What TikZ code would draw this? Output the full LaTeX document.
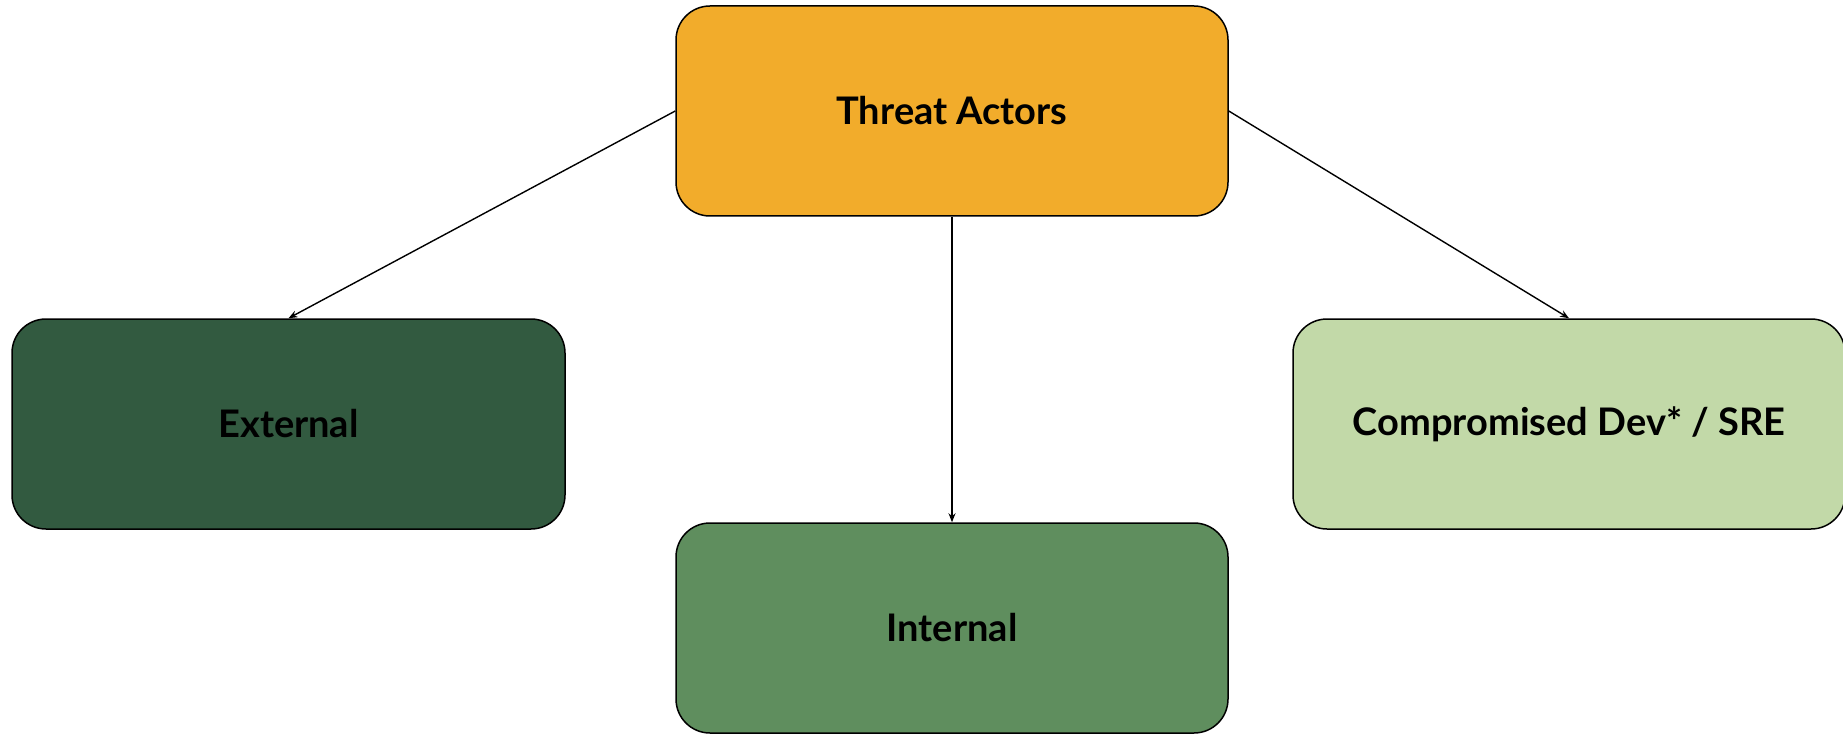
\documentclass[tikz,border=0pt]{standalone}
\usepackage{fontspec}
\setmainfont{Lato}
\usetikzlibrary{arrows.meta}
\definecolor{orangeA}{HTML}{F2AC2B}
\definecolor{greenDark}{HTML}{325A40}
\definecolor{greenMid}{HTML}{5F8E5E}
\definecolor{greenLight}{HTML}{C2D9A8}
\begin{document}
\begin{tikzpicture}[x=1pt,y=-1pt,
  box/.style={draw=black, line width=1.5pt, rounded corners=34pt,
    minimum width=552pt, minimum height=210pt, inner sep=0pt,
    font=\fontsize{38}{44}\selectfont\bfseries, text=black},
  conn/.style={draw=black, line width=1.4pt,
    -{Stealth[length=9pt,width=7pt,inset=3pt]}}]
\useasboundingbox (0,0) rectangle (1843,735);
\node[box, fill=orangeA] (ta) at (952,111) {Threat Actors};
\node[box, fill=greenDark, minimum width=553pt] (ext) at (288.5,424) {External};
\node[box, fill=greenMid] (int) at (952,628) {Internal};
\node[box, fill=greenLight] (comp) at (1569,424) {Compromised Dev* / SRE};
\draw[conn] (ta.west) -- (ext.north);
\draw[conn] (ta.south) -- (int.north);
\draw[conn] (ta.east) -- (comp.north);
\end{tikzpicture}
\end{document}
